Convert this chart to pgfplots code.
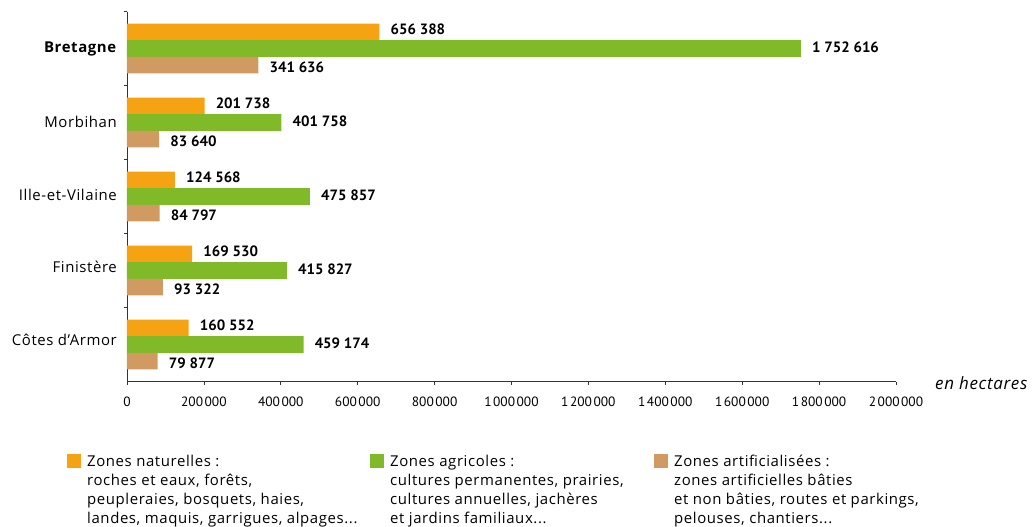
\documentclass[border=0pt]{standalone}
\usepackage{fontspec}
\setmainfont{Open Sans}[LetterSpace=4]
\newfontfamily\numfont{PT Sans}
\usepackage{pgfplots}
\pgfplotsset{compat=1.18}

\definecolor{cnat}{RGB}{245,163,18}
\definecolor{cagr}{RGB}{128,186,40}
\definecolor{cart}{RGB}{208,154,98}

\newcommand\legnat{\begin{tabular}[t]{@{}p{283bp}@{}}Zones naturelles :\\roches et eaux, forêts,\\peupleraies, bosquets, haies,\\landes, maquis, garrigues, alpages...\end{tabular}}
\newcommand\legagr{\begin{tabular}[t]{@{}p{264bp}@{}}Zones agricoles :\\cultures permanentes, prairies,\\cultures annuelles, jachères\\et jardins familiaux...\end{tabular}}
\newcommand\legart{\begin{tabular}[t]{@{}l@{}}Zones artificialisées :\\zones artificielles bâties\\et non bâties, routes et parkings,\\pelouses, chantiers...\end{tabular}}

\begin{document}
\begin{tikzpicture}
\begin{axis}[
    name=ax,
    at={(0,0)}, anchor=south west,
    scale only axis, width=769bp, height=370bp,
    xmin=0, xmax=2000000, ymin=0, ymax=5,
    xbar, bar width=0.225,
    axis x line*=bottom, axis y line*=left,
    axis line style={black!80, line width=0.8bp, -},
    tick align=outside, major tick length=3bp,
    tick style={black!80, line width=0.6bp},
    xtick={0,200000,...,2000000},
    scaled x ticks=false,
    xticklabel style={font=\numfont\fontsize{13.5}{15}\selectfont, inner sep=0pt, yshift=-12.5bp},
    /pgf/number format/.cd, fixed, precision=0, assume math mode=true, 1000 sep={\kern1.5bp},
    /pgfplots/.cd,
    ytick={1,2,3,4,5}, yticklabels={},
    extra y ticks={0.563,1.548,2.52,3.509,4.494},
    extra y tick labels={Côtes d'Armor, Finistère, Ille-et-Vilaine, Morbihan, \textbf{Bretagne}},
    extra y tick style={major tick length=0pt,
        yticklabel style={font=\fontsize{15}{17}\selectfont, inner sep=0pt, xshift=-10bp}},
    point meta=explicit symbolic,
    nodes near coords={\pgfplotspointmeta},
    nodes near coords style={font=\numfont\bfseries\fontsize{15}{17}\selectfont, anchor=west, inner sep=0pt, xshift=11bp},
    legend columns=3,
    legend style={at={(-0.078,-0.1928)}, anchor=north west, draw=none, inner sep=0pt,
        font=\fontsize{15}{19}\selectfont,
        nodes={inner sep=0pt, anchor=base west},
        /tikz/every odd column/.append style={column sep=6bp}},
    legend image code/.code={\fill[#1] (0bp,-1.3bp) rectangle (14bp,12.7bp);},
]
\addplot[fill=cnat, draw=none, bar shift=0.225,
    nodes near coords style={yshift=3bp}] coordinates {
    (656388,4.5) [656 388]
    (201738,3.5) [201 738]
    (124568,2.5) [124 568]
    (169530,1.5) [169 530]
    (160552,0.5) [160 552]
};
\addlegendentry{\legnat}
\addplot[fill=cagr, draw=none, bar shift=0,
    nodes near coords style={yshift=1.5bp}] coordinates {
    (1752616,4.5) [1 752 616]
    (401758,3.5) [401 758]
    (475857,2.5) [475 857]
    (415827,1.5) [415 827]
    (459174,0.5) [459 174]
};
\addlegendentry{\legagr}
\addplot[fill=cart, draw=none, bar shift=-0.225,
    nodes near coords style={yshift=-2bp}] coordinates {
    (341636,4.5) [341 636]
    (83640,3.5) [83 640]
    (84797,2.5) [84 797]
    (93322,1.5) [93 322]
    (79877,0.5) [79 877]
};
\addlegendentry{\legart}
\end{axis}
\node[anchor=west, font=\itshape\fontsize{17}{20}\selectfont, inner sep=0pt]
    at (ax.south east) [xshift=39bp, yshift=-2bp] {en hectares};
\pgfresetboundingbox
\useasboundingbox (-127bp,-145.5bp) rectangle (907bp,381.5bp);
\end{tikzpicture}
\end{document}
